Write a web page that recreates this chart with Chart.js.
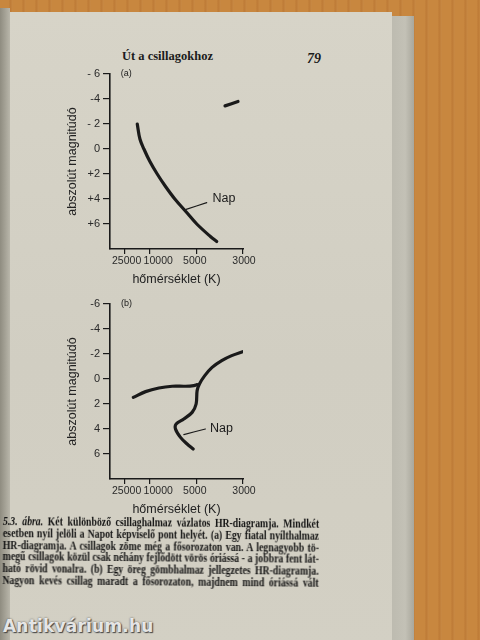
<!DOCTYPE html>
<html>
<head>
<meta charset="utf-8">
<script src="https://cdn.jsdelivr.net/npm/chart.js@4/dist/chart.umd.min.js"></script>
<style>
  html, body { margin: 0; padding: 0; }
  body {
    width: 480px; height: 640px; overflow: hidden; position: relative;
    background: repeating-linear-gradient(90deg, #c8873f 0px, #c8873f 9px, #bd7a36 10px, #c98a44 13px);
  }
  .page {
    position: absolute; left: 8px; top: 12px; width: 384px; height: 640px;
    background: linear-gradient(180deg, #d7d4c8 0%, #d1cec2 55%, #d3d0c4 100%);
  }
  .gutter {
    position: absolute; left: 0; top: 8px; width: 10px; height: 640px;
    background: linear-gradient(90deg, #8f8c80, #b9b6aa);
  }
  .stack {
    position: absolute; left: 392px; top: 16px; width: 22px; height: 640px;
    background: linear-gradient(90deg, #bdbbb0 0%, #c3c1b6 60%, #a9a79c 100%);
  }
  canvas { position: absolute; }
  .head { position: absolute; font-family: "Liberation Serif", serif; font-weight: bold; color: #1b1b1b; }
  .cap {
    position: absolute; left: 3px; top: 516px; transform: rotate(0.5deg); transform-origin: left top;
  }
  .cap div {
    width: 372px; height: 11.8px; line-height: 11.8px; white-space: nowrap;
    font-family: "Liberation Serif", serif; font-weight: bold; font-size: 11.5px; color: #121212;
    text-align: justify; text-align-last: justify;
    transform: scaleX(0.85); transform-origin: left center;
  }
  .mark {
    position: absolute; left: 3px; top: 616px; font-family: "DejaVu Sans", sans-serif; font-weight: bold;
    font-size: 17px; color: rgba(255,255,255,0.85); letter-spacing: 0.2px;
    text-shadow: 0 0 2px #555, 1px 1px 1px #444;
  }
</style>
</head>
<body>
<div class="page"></div>
<div class="gutter"></div>
<div class="stack"></div>

<div class="head" style="left:122px; top:49px; font-size:12.5px;">Út a csillagokhoz</div>
<div class="head" style="left:307px; top:51px; font-size:14px; font-style:italic;">79</div>

<canvas id="chartA" width="220" height="230" style="left:60px; top:60px;"></canvas>
<canvas id="chartB" width="220" height="230" style="left:60px; top:290px;"></canvas>

<div class="cap">
  <div><i>5.3. ábra.</i> Két különböző csillaghalmaz vázlatos HR-diagramja. Mindkét</div>
  <div>esetben nyíl jelöli a Napot képviselő pont helyét. (a) Egy fiatal nyílthalmaz</div>
  <div>HR-diagramja. A csillagok zöme még a fősorozaton van. A legnagyobb tö-</div>
  <div>megű csillagok közül csak néhány fejlődött vörös óriássá - a jobbra fent lát-</div>
  <div>ható rövid vonalra. (b) Egy öreg gömbhalmaz jellegzetes HR-diagramja.</div>
  <div>Nagyon kevés csillag maradt a fősorozaton, majdnem mind óriássá vált</div>
</div>
<div class="mark">Antikvárium.hu</div>

<script>
// magnitude axis (upside down: bright stars on top)
const magTicks = [-6, -4, -2, 0, 2, 4, 6];
const magLabelsA = ["- 6", "-4", "- 2", "0", "+2", "+4", "+6"];
const magLabelsB = ["-6", "-4", "-2", "0", "2", "4", "6"];

// temperature axis is a sketch scale: tick marks and their labels sit in colour-index-like units
const tempTicks = [0.45, 1.2, 2.6, 4.0];
const tempLabelAt = [0.5, 1.45, 2.55, 4.03];
const tempLabels = ["25000", "10000", "5000", "3000"];

// (a) young open cluster
const mainSeqA = [[0.82, -2.0], [0.90, -0.8], [1.02, 0], [1.20, 1], [1.42, 2], [1.67, 3], [1.95, 4], [2.28, 5], [2.61, 6], [3.02, 7], [3.21, 7.4]];
const giantsA = [[3.46, -3.45], [3.85, -3.8]];
const sunArrowA = [[2.29, 4.83], [2.91, 4.29]];

// (b) old globular cluster
const horizBranchB = [[0.70, 1.47], [1.07, 1.01], [1.47, 0.72], [1.87, 0.58], [2.27, 0.58], [2.52, 0.53], [2.62, 0.45]];
const giantBranchB = [[4.03, -2.22], [3.66, -1.87], [3.36, -1.47], [3.07, -0.93], [2.85, -0.27], [2.69, 0.4], [2.62, 0.93], [2.59, 2.0], [2.47, 2.67], [2.22, 3.2], [1.99, 3.6], [1.97, 4.0], [2.12, 4.67], [2.32, 5.2], [2.50, 5.6]];
const sunArrowB = [[2.22, 4.45], [2.87, 4.0]];

const ink = "#1a1a1a";
const sans = "'Liberation Sans', Arial, sans-serif";

const toPts = (arr) => arr.map(([x, y]) => ({ x, y }));

function curve(data, width) {
  return { data: toPts(data), borderColor: ink, borderWidth: width, pointRadius: 0, tension: 0.35, fill: false, borderCapStyle: "round" };
}

// text notes placed in data units
const notes = {
  id: "notes",
  afterDatasetsDraw(chart, args, opts) {
    const { ctx, scales: { x, y } } = chart;
    ctx.save();
    ctx.fillStyle = ink;
    ctx.textBaseline = "middle";
    ctx.textAlign = "left";
    (opts.items || []).forEach((t) => {
      ctx.font = t.font;
      ctx.fillText(t.text, x.getPixelForValue(t.x), y.getPixelForValue(t.y));
    });
    ctx.restore();
  }
};

function makeChart(id, datasets, magLabels, items) {
  return new Chart(document.getElementById(id), {
    type: "line",
    data: { datasets },
    plugins: [notes],
    options: {
      responsive: false,
      animation: false,
      layout: { padding: { top: 14, right: 37, left: 0, bottom: 0 } },
      plugins: { legend: { display: false }, tooltip: { enabled: false }, notes: { items } },
      scales: {
        // tick marks only, sits right on the plot edge
        xMarks: {
          type: "linear", position: "bottom", min: 0, max: 4, weight: 0,
          afterBuildTicks: (s) => { s.ticks = tempTicks.map((v) => ({ value: v })); },
          afterFit: (s) => { s.height = 0; },
          ticks: { display: false },
          grid: { drawOnChartArea: false, tickLength: 5, color: ink, lineWidth: 1.2 },
          border: { display: false }
        },
        x: {
          type: "linear", position: "bottom", min: 0, max: 4, weight: 1,
          afterBuildTicks: (s) => { s.ticks = tempLabelAt.map((v) => ({ value: v })); },
          afterFit: (s) => { s.height = 41; },
          ticks: { autoSkip: false, maxRotation: 0, padding: 6, color: "#2a2a2a", font: { family: sans, size: 10.5 }, callback: (v, i) => tempLabels[i] },
          grid: { drawOnChartArea: false, drawTicks: false },
          border: { color: ink, width: 1.6 },
          title: { display: true, text: "hőmérséklet (K)", color: "#222", font: { family: sans, size: 12.5 }, padding: { top: 0, bottom: 3 } }
        },
        y: {
          type: "linear", min: -6, max: 8, reverse: true,
          afterBuildTicks: (s) => { s.ticks = magTicks.map((v) => ({ value: v })); },
          afterFit: (s) => { s.width = 50; },
          ticks: { autoSkip: false, padding: 3, color: "#2a2a2a", font: { family: sans, size: 11 }, callback: (v, i) => magLabels[i] },
          grid: { drawOnChartArea: false, tickLength: 7, color: ink, lineWidth: 1.2 },
          border: { color: ink, width: 1.6 },
          title: { display: true, text: "abszolút magnitúdó", color: "#222", font: { family: sans, size: 12.5 }, padding: { top: 5, bottom: 0 } }
        }
      }
    }
  });
}

makeChart("chartA", [
  curve(mainSeqA, 3.2),
  curve(giantsA, 3.2),
  curve(sunArrowA, 1.1)
], magLabelsA, [
  { text: "(a)", x: 0.32, y: -6, font: "9px " + sans },
  { text: "Nap", x: 3.08, y: 4.0, font: "12.5px " + sans }
]);

makeChart("chartB", [
  curve(horizBranchB, 3.2),
  curve(giantBranchB, 3.2),
  curve(sunArrowB, 1.1)
], magLabelsB, [
  { text: "(b)", x: 0.33, y: -6, font: "9px " + sans },
  { text: "Nap", x: 3.01, y: 4.0, font: "12.5px " + sans }
]);
</script>
</body>
</html>
